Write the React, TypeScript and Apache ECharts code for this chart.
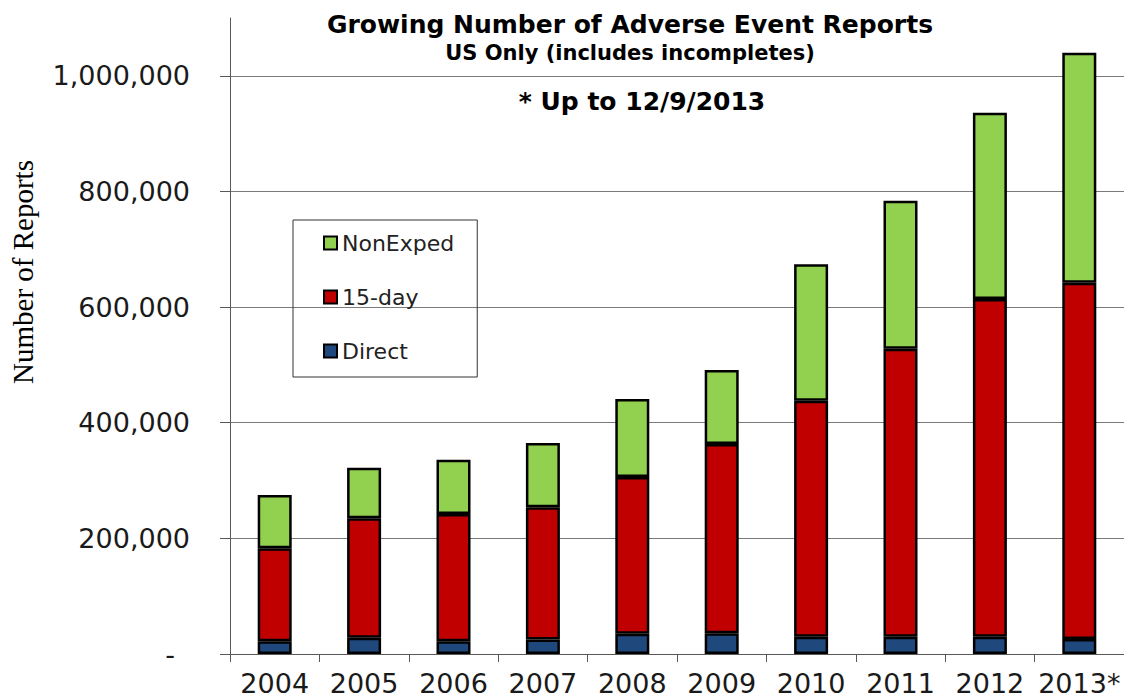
import React, { useEffect, useRef } from "react";
import * as echarts from "echarts";

const categories = ["2004", "2005", "2006", "2007", "2008", "2009", "2010", "2011", "2012", "2013*"];
const direct = [22000, 28000, 22000, 25000, 35000, 36000, 30000, 30000, 30000, 26000];
const fifteenDay = [161000, 207000, 220000, 229000, 271000, 327000, 408000, 498000, 584000, 616000];
const nonExped = [92000, 87000, 94000, 111000, 135000, 128000, 236000, 256000, 322000, 398000];
const yTicks = [0, 200000, 400000, 600000, 800000, 1000000];
const yMax = 1100000;

const titleText = "Growing Number of Adverse Event Reports";
const subtitleText = "US Only (includes incompletes)";
const noteText = "* Up to 12/9/2013";
const yAxisName = "Number of Reports";

const SANS = "'DejaVu Sans', sans-serif";

export default function App() {
  const ref = useRef<HTMLDivElement>(null);
  useEffect(() => {
    document.body.style.margin = "0";
    if (!ref.current) return;
    const chart = echarts.init(ref.current, null, { renderer: "svg" });
    const fmt = (v: number) => v.toLocaleString("en-US");
    const barBase = {
      type: "bar",
      stack: "total",
      barWidth: 34,
      itemStyle: { borderColor: "#000", borderWidth: 2.5 },
    };
    chart.setOption({
      animation: false,
      backgroundColor: "#fff",
      grid: { left: 230, right: 0, top: 18, bottom: 46, containLabel: false, outerBoundsMode: "none" },
      legend: {
        orient: "vertical",
        left: 293,
        top: 220,
        data: ["NonExped", "15-day", "Direct"],
        itemWidth: 13,
        itemHeight: 13,
        itemGap: 32,
        padding: [12, 23, 15, 30],
        borderColor: "#333",
        borderWidth: 1,
        icon: "rect",
        itemStyle: { borderColor: "#000", borderWidth: 2 },
        textStyle: { fontFamily: SANS, fontSize: 22, color: "#222", lineHeight: 22 },
      },
      xAxis: {
        type: "category",
        data: categories,
        axisLine: { lineStyle: { color: "#595959", width: 1 } },
        axisTick: { show: true, length: 8, inside: false, lineStyle: { color: "#595959" } },
        axisLabel: { fontFamily: SANS, fontSize: 27, lineHeight: 27, color: "#1a1a1a", margin: 16, interval: 0 },
      },
      yAxis: {
        type: "value",
        min: 0,
        max: yMax,
        interval: 200000,
        axisLine: { show: true, lineStyle: { color: "#595959", width: 1 } },
        axisTick: { show: true, length: 10, inside: false, customValues: yTicks, lineStyle: { color: "#595959" } },
        splitLine: { show: true, lineStyle: { color: "#7a7a7a", width: 1 } },
        axisLabel: {
          customValues: yTicks,
          fontFamily: SANS,
          fontSize: 27,
          color: "#1a1a1a",
          margin: 40,
          formatter: (v: number) => (v === 0 ? "{d|-}" : fmt(v)),
          rich: { d: { fontFamily: SANS, fontSize: 27, color: "#1a1a1a", padding: [0, 15, 0, 0] } },
        },
      },
      series: [
        { ...barBase, name: "Direct", data: direct, itemStyle: { ...barBase.itemStyle, color: "#1F497D" } },
        { ...barBase, name: "15-day", data: fifteenDay, itemStyle: { ...barBase.itemStyle, color: "#C00000" } },
        { ...barBase, name: "NonExped", data: nonExped, itemStyle: { ...barBase.itemStyle, color: "#92D050" } },
      ],
      graphic: [
        {
          type: "text",
          x: 630,
          y: 24,
          style: { text: titleText, fontFamily: SANS, fontSize: 25, fontWeight: "bold", fill: "#000", align: "center", verticalAlign: "middle", textAlign: "center", textVerticalAlign: "middle" },
        },
        {
          type: "text",
          x: 630,
          y: 53,
          style: { text: subtitleText, fontFamily: SANS, fontSize: 21, fontWeight: "bold", fill: "#000", align: "center", verticalAlign: "middle", textAlign: "center", textVerticalAlign: "middle" },
        },
        {
          type: "text",
          x: 642,
          y: 101,
          style: { text: noteText, fontFamily: SANS, fontSize: 25, fontWeight: "bold", fill: "#000", align: "center", verticalAlign: "middle", textAlign: "center", textVerticalAlign: "middle" },
        },
        {
          type: "text",
          x: 23,
          y: 272,
          rotation: Math.PI / 2,
          style: { text: yAxisName, fontFamily: "'Liberation Serif', 'Times New Roman', serif", fontSize: 29, fill: "#000", align: "center", verticalAlign: "middle", textAlign: "center", textVerticalAlign: "middle" },
        },
      ],
    });
    return () => chart.dispose();
  }, []);
  return <div ref={ref} style={{ width: 1124, height: 700 }} />;
}
